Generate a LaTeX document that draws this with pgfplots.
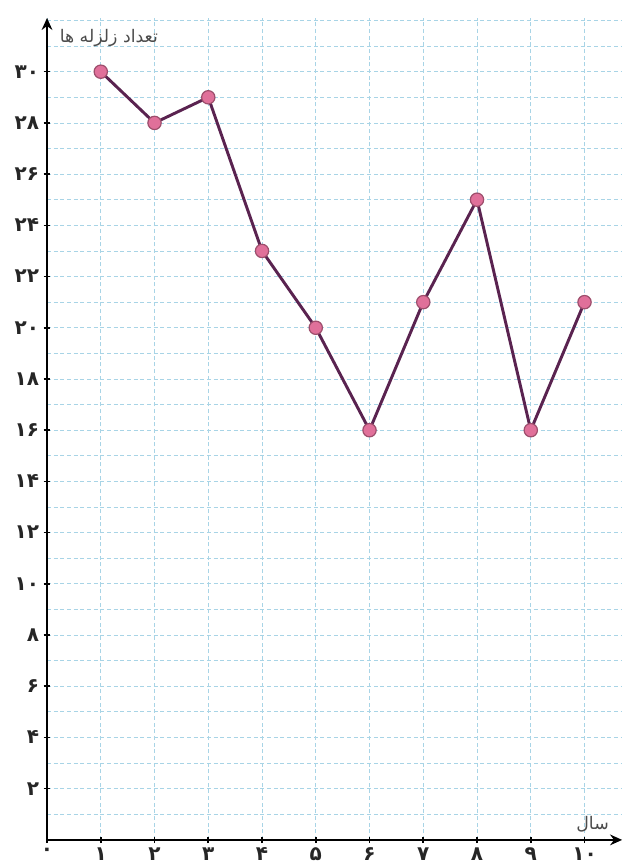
\documentclass[border=0pt]{standalone}
\usepackage{fontspec}
\usepackage{pgfplots}
\pgfplotsset{compat=1.18}
\usetikzlibrary{arrows.meta}
\TeXXeTstate=1
\newfontfamily\arabicfont[Script=Arabic]{DejaVu Sans}
\definecolor{gridblue}{HTML}{A8D4E6}
\definecolor{linepurple}{HTML}{5A2350}
\definecolor{markpink}{HTML}{E0709A}
\begin{document}
\begin{tikzpicture}
\begin{axis}[
  x=40.3pt, y=19.2pt,
  xmin=0, xmax=10.7, ymin=0, ymax=32.1,
  axis lines=left,
  axis line style={line width=2pt, -{Stealth[length=9pt,width=8pt]}},
  xtick={0,...,10},
  xticklabels={۰,۱,۲,۳,۴,۵,۶,۷,۸,۹,۱۰},
  ytick={2,4,...,30},
  yticklabels={۲,۴,۶,۸,۱۰,۱۲,۱۴,۱۶,۱۸,۲۰,۲۲,۲۴,۲۶,۲۸,۳۰},
  minor ytick={1,3,...,31,32},
  grid=both,
  major grid style={gridblue, densely dashed, line width=0.6pt},
  minor grid style={gridblue, densely dashed, line width=0.6pt},
  tick style={black, line width=1.2pt},
  major tick length=5pt, minor tick length=0pt,
  tick align=center,
  ticklabel style={font=\arabicfont\bfseries\fontsize{15}{17}\selectfont, text=black!85},
  clip=false,
]
\addplot[linepurple, line width=2.2pt, mark=*, mark size=5pt,
  mark options={fill=markpink, draw=markpink!70!black, line width=0.9pt}]
  coordinates {(1,30)(2,28)(3,29)(4,23)(5,20)(6,16)(7,21)(8,25)(9,16)(10,21)};
\node[anchor=west, font=\arabicfont\fontsize{13}{15}\selectfont, text=black!70]
  at (axis cs:0.15,31.3) {\beginR تعداد زلزله ها\endR};
\node[font=\arabicfont\fontsize{13}{15}\selectfont, text=black!70]
  at (axis cs:10.15,0.6) {\beginR سال\endR};
\coordinate (bl) at (axis cs:-0.875,-0.98);
\coordinate (tr) at (axis cs:10.74,32.8);
\end{axis}
\pgfresetboundingbox
\path (bl) rectangle (tr);
\end{tikzpicture}
\end{document}
